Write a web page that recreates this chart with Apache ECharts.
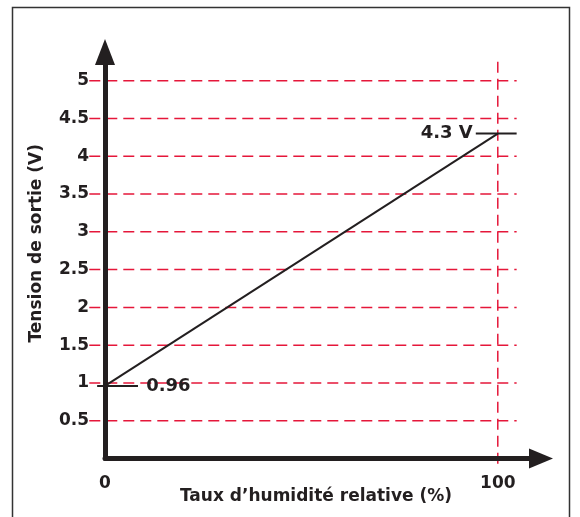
<!DOCTYPE html>
<html>
<head>
<meta charset="utf-8">
<script src="https://cdn.jsdelivr.net/npm/echarts@6/dist/echarts.min.js"></script>
<style>
html,body{margin:0;padding:0;background:#fff;}
#chart{width:580px;height:517px;}
</style>
</head>
<body>
<div id="chart"></div>
<script>
// Data
var humidity = [0, 100];
var voltage = [0.96, 4.3];
var yTickLabels = [0.5, 1, 1.5, 2, 2.5, 3, 3.5, 4, 4.5, 5];
var xTickLabels = [0, 100];
var xTitle = 'Taux d\u2019humidité relative (%)';
var yTitle = 'Tension de sortie (V)';
var startLabel = '0.96';
var endLabel = '4.3 V';

var RED = '#e5173a';
var INK = '#231f20';
var FONT = '"DejaVu Sans", "Liberation Sans", Arial, sans-serif';

var chart = echarts.init(document.getElementById('chart'), null, {renderer: 'canvas'});

// segments: [x1, y1, x2, y2, kind]  kind 0 = red dashed guide, 1 = black leader
var segments = yTickLabels.map(function (v) { return [-4, v, 104.8, v, 0]; });
segments.push([xTickLabels[1], 5.25, xTickLabels[1], -0.13, 0]);
segments.push([-2, voltage[0], 8.4, voltage[0], 1]);
segments.push([94.4, voltage[1], 104.8, voltage[1], 1]);

var labelStyle = {fontFamily: FONT, fontWeight: 'bold', fontSize: 17, color: INK};

chart.setOption({
  animation: false,
  backgroundColor: '#fff',
  graphic: [{
    type: 'rect',
    shape: {x: 12.5, y: 7.5, width: 557, height: 530},
    style: {fill: 'none', stroke: '#333', lineWidth: 1.5},
    z: -10
  }],
  grid: {left: 105, top: 52, width: 436, height: 406.5, containLabel: false, outerBoundsMode: 'none'},
  xAxis: {
    type: 'value', min: 0, max: 111,
    name: xTitle, nameLocation: 'middle', nameGap: 30, nameMoveOverlap: false,
    nameTextStyle: Object.assign({padding: [0, 14, 0, 0]}, labelStyle),
    z: 5,
    axisLine: {show: true, onZero: false, symbol: ['none', 'triangle'], symbolSize: [20, 24], lineStyle: {color: INK, width: 5}},
    axisTick: {show: false},
    splitLine: {show: false},
    axisLabel: Object.assign({margin: 17, customValues: xTickLabels,
      formatter: function (v) { return String(v); }}, labelStyle)
  },
  yAxis: {
    type: 'value', min: 0, max: 5.38,
    name: yTitle, nameLocation: 'middle', nameGap: 60, nameRotate: 90, nameMoveOverlap: false,
    nameTextStyle: Object.assign({padding: [0, 0, 0, 24]}, labelStyle),
    z: 5,
    axisLine: {show: true, onZero: false, symbol: ['none', 'triangle'], symbolSize: [20, 26], lineStyle: {color: INK, width: 5}},
    axisTick: {show: false},
    splitLine: {show: false},
    axisLabel: Object.assign({margin: 16, customValues: yTickLabels,
      formatter: function (v) { return String(v); }}, labelStyle)
  },
  series: [
    {
      type: 'custom',
      clip: false,
      z: 1,
      silent: true,
      encode: {x: [0, 2], y: [1, 3]},
      data: segments,
      renderItem: function (params, api) {
        var p1 = api.coord([api.value(0), api.value(1)]);
        var p2 = api.coord([api.value(2), api.value(3)]);
        var kind = api.value(4);
        return {
          type: 'line',
          shape: {x1: p1[0], y1: p1[1], x2: p2[0], y2: p2[1]},
          style: kind === 0
            ? {stroke: RED, lineWidth: 1.5, lineDash: [11, 6]}
            : {stroke: INK, lineWidth: 2}
        };
      }
    },
    {
      type: 'line',
      clip: false,
      z: 3,
      symbol: 'none',
      silent: true,
      lineStyle: {color: INK, width: 2},
      data: humidity.map(function (h, i) { return [h, voltage[i]]; }),
      markPoint: {
        silent: true, symbol: 'rect', symbolSize: 0,
        data: [
          {coord: [9.2, voltage[0]], value: startLabel,
           label: Object.assign({show: true, formatter: startLabel, position: 'right'}, labelStyle, {fontSize: 18})},
          {coord: [94.9, voltage[1]], value: endLabel,
           label: Object.assign({show: true, formatter: endLabel, position: 'left'}, labelStyle, {fontSize: 18})}
        ]
      }
    }
  ]
});
</script>
</body>
</html>
